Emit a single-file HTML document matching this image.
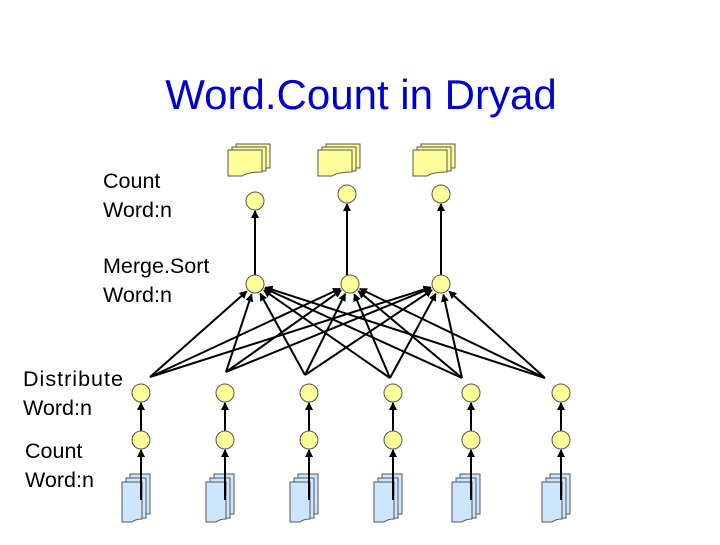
<!DOCTYPE html>
<html><head><style>
body{margin:0;background:#fff;width:720px;height:540px;overflow:hidden}
</style></head><body>
<svg id="s" width="720" height="540" xmlns="http://www.w3.org/2000/svg" font-family="Liberation Sans, Arial, sans-serif">
<defs>
<marker id="a" markerWidth="8" markerHeight="8" refX="7" refY="4" orient="auto" markerUnits="userSpaceOnUse"><path d="M0,0 L8,4 L0,8 z" fill="#000"/></marker>
<g id="yf"><path d="M8,0 H42 V24 H8 Z" fill="#ffff99" stroke="#555" stroke-width="1"/><path d="M4,3 H38 V27 H4 Z" fill="#ffff99" stroke="#555"/><path d="M0,6 H34 V28 Q20,28 14,32 H0 Z" fill="#ffff99" stroke="#555"/></g>
<g id="bf"><path d="M8,0 H28 V40 H8 Z" fill="#cce6ff" stroke="#555"/><path d="M4,4 H24 V44 H4 Z" fill="#cce6ff" stroke="#555"/><path d="M0,8 H20 V45 Q14,45 10,48 H0 Z" fill="#cce6ff" stroke="#555"/></g>
</defs>
<text x="361" y="109" font-size="42" text-anchor="middle" fill="#0000cc">Word.Count in Dryad</text>
<g font-size="21.5" fill="#000">
<text x="103" y="188">Count</text><text x="103" y="217">Word:n</text>
<text x="103" y="273">Merge.Sort</text><text x="103" y="302">Word:n</text>
<text x="23" y="386" textLength="100">Distribute</text><text x="23" y="415">Word:n</text>
<text x="25" y="458">Count</text><text x="25" y="487">Word:n</text>
</g>
<use href="#yf" x="228" y="144"/><use href="#yf" x="318" y="144"/><use href="#yf" x="413" y="144"/>
<g id="files"></g>
<g stroke="#000" stroke-width="2" marker-end="url(#a)" id="edges"></g>
<g id="circ" fill="#ffff99" stroke="#555" stroke-width="1"></g>
</svg>
<script>
(function(){
var ns="http://www.w3.org/2000/svg";
function el(p,t,at){var e=document.createElementNS(ns,t);for(var k in at)e.setAttribute(k,at[k]);document.getElementById(p).appendChild(e);return e;}
var tp=[[255,201],[347,194],[441,194]],mer=[[255,284],[350,284],[441,284]];
var xs=[141,225,309,393,471,561];
var src=[[150,377],[226,372],[305,375],[390,378],[462,378],[545,378]];
function line(x1,y1,x2,y2,r){var dx=x2-x1,dy=y2-y1,d=Math.sqrt(dx*dx+dy*dy),s=(d-r)/d;el("edges","line",{x1:x1,y1:y1,x2:x1+dx*s,y2:y1+dy*s});}
for(var i=0;i<3;i++)el("edges","line",{x1:tp[i][0],y1:mer[i][1]-9,x2:tp[i][0],y2:tp[i][1]+10});
for(var j=0;j<6;j++){
 for(var k=0;k<3;k++)line(src[j][0],src[j][1],mer[k][0],mer[k][1],11);
 var u=el("files","use",{x:xs[j]-19,y:474});u.setAttribute("href","#bf");
 el("edges","line",{x1:xs[j],y1:500,x2:xs[j],y2:450});
 el("edges","line",{x1:xs[j],y1:431,x2:xs[j],y2:403});
}
tp.concat(mer).forEach(function(c){el("circ","circle",{cx:c[0],cy:c[1],r:9});});
xs.forEach(function(x){el("circ","circle",{cx:x,cy:393,r:9});el("circ","circle",{cx:x,cy:440,r:9});});
})();
</script>
</body></html>
